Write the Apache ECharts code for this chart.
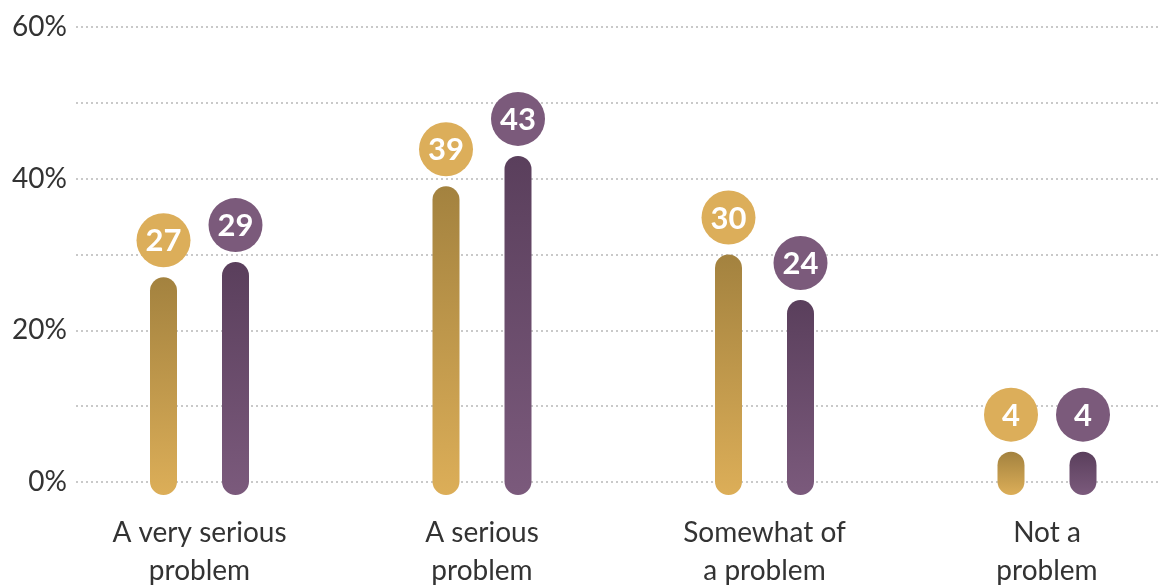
<!DOCTYPE html>
<html>
<head>
<meta charset="utf-8">
<script src="https://cdn.jsdelivr.net/npm/echarts@6/dist/echarts.min.js"></script>
<style>
  html, body { margin: 0; padding: 0; background: #fff; }
  #chart { width: 1160px; height: 586px; }
</style>
</head>
<body>
<div id="chart"></div>
<script>
// Survey responses: how serious is the problem
const categories = ['A very serious\nproblem', 'A serious\nproblem', 'Somewhat of\na problem', 'Not a\nproblem'];
const goldValues = [27, 39, 30, 4];
const purpleValues = [29, 43, 24, 4];
const yMin = 0;
const yMax = 60;
const yStep = 10;

const FONT = '"Source Sans Pro", Lato, "Noto Sans", sans-serif';

// Rounded stick with a value bubble above it
function stickRenderer(offset, topColor, bottomColor, bubbleColor) {
  return function (params, api) {
    const ci = api.value(0);
    const v = api.value(1);
    const top = api.coord([ci, v]);
    const base = api.coord([ci, 0]);
    const x = top[0] + offset;
    const w = 27;
    const cy = top[1] - 37;
    return {
      type: 'group',
      children: [
        {
          type: 'rect',
          shape: { x: x - w / 2, y: top[1], width: w, height: base[1] - top[1] + 13, r: w / 2 },
          style: {
            fill: new echarts.graphic.LinearGradient(0, 0, 0, 1, [
              { offset: 0, color: topColor },
              { offset: 1, color: bottomColor }
            ])
          }
        },
        {
          type: 'circle',
          shape: { cx: x, cy: cy, r: 27 },
          style: { fill: bubbleColor }
        },
        {
          type: 'text',
          style: {
            text: String(v),
            x: x,
            y: cy + 1,
            align: 'center',
            verticalAlign: 'middle',
            fill: '#ffffff',
            font: 'bold 31px ' + FONT
          }
        }
      ]
    };
  };
}

const chart = echarts.init(document.getElementById('chart'), null, { renderer: 'canvas' });

chart.setOption({
  animation: false,
  grid: [
    { left: 76, right: 0, top: 27, bottom: 104, outerBoundsMode: 'none', containLabel: false },
    { left: 58.25, width: 1130, top: 27, bottom: 104, outerBoundsMode: 'none', containLabel: false }
  ],
  xAxis: [
    { gridIndex: 0, type: 'category', data: categories, show: false },
    {
      gridIndex: 1,
      type: 'category',
      data: categories,
      axisLine: { show: false },
      axisTick: { show: false },
      axisLabel: {
        margin: 32,
        color: '#333333',
        fontSize: 28,
        fontWeight: 'normal',
        fontFamily: FONT,
        lineHeight: 38,
        interval: 0
      }
    }
  ],
  yAxis: [
    {
      gridIndex: 0,
      type: 'value',
      min: yMin,
      max: yMax,
      interval: yStep,
      axisLine: { show: false },
      axisTick: { show: false },
      axisLabel: {
        margin: 9,
        color: '#333333',
        fontSize: 28,
        fontWeight: 'normal',
        fontFamily: FONT,
        formatter: v => (v % 20 === 0 ? v + '%' : '')
      },
      splitLine: { lineStyle: { type: [2, 3], color: '#b8b8b8', width: 1.5 } }
    },
    { gridIndex: 1, type: 'value', min: yMin, max: yMax, interval: yStep, show: false, splitLine: { show: false } }
  ],
  series: [
    {
      name: 'Group one',
      type: 'custom',
      xAxisIndex: 1,
      yAxisIndex: 1,
      renderItem: stickRenderer(-36, '#a3823f', '#dcae58', '#dcae5a'),
      data: goldValues.map((v, i) => [i, v]),
      encode: { x: 0, y: 1 }
    },
    {
      name: 'Group two',
      type: 'custom',
      xAxisIndex: 1,
      yAxisIndex: 1,
      renderItem: stickRenderer(36, '#5a3f5c', '#7b5a7c', '#7b5a7b'),
      data: purpleValues.map((v, i) => [i, v]),
      encode: { x: 0, y: 1 }
    }
  ]
});
</script>
</body>
</html>
